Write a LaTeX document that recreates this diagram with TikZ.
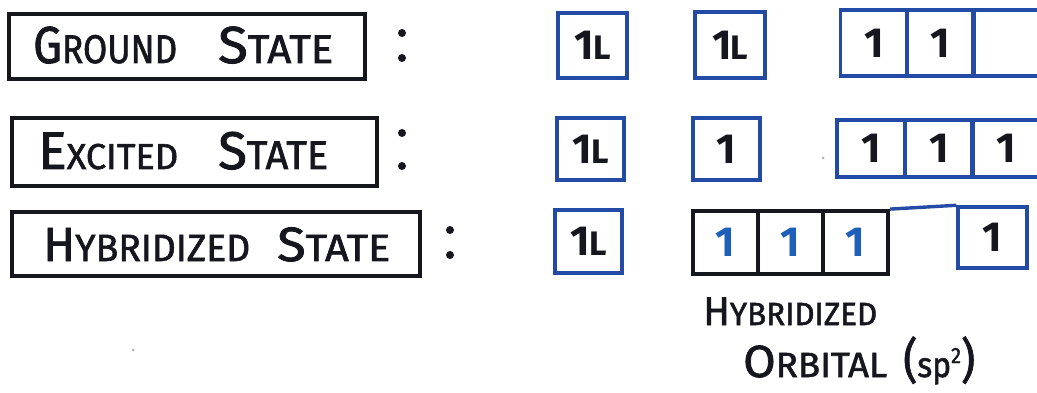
\documentclass[tikz,border=0pt]{standalone}
\usepackage{fontspec}
\setmainfont{Fira Sans}
\newfontfamily\hand{Fira Sans}[FakeBold=1.6]
\usepackage{graphicx}
\definecolor{ink}{RGB}{22,22,30}
\definecolor{oblue}{RGB}{35,75,165}
\definecolor{dblue}{RGB}{30,95,185}
\newcommand\fitw[2]{\resizebox{#1pt}{\height}{#2}}
\newcommand\fs[1]{\fontsize{#1}{#1}\selectfont}
\newcommand\updn{1\kern-1pt{\fs{34}L}}
\begin{document}
\begin{tikzpicture}[x=1pt,y=-1pt,
  lblbox/.style={draw=ink, line width=3.8pt, inner sep=0pt},
  lbltxt/.style={inner sep=0pt, text=ink, anchor=base west, font=\hand},
  colondot/.style={circle, fill=ink, inner sep=0pt, minimum size=8pt},
  orb/.style={draw=oblue, line width=3.4pt, inner sep=0pt, text=ink,
              font=\fs{42}\bfseries},
  orbk/.style={draw=ink, line width=3.8pt, inner sep=0pt, text=dblue,
              font=\fs{42}\bfseries},
  speck/.style={circle, fill=gray!60, inner sep=0pt, minimum size=3pt}]
\useasboundingbox (0,0) rectangle (1037,393);
\clip (0,0) rectangle (1037,393);
\fill[white] (0,0) rectangle (1037,393);

% ---- label boxes ----
\node[lblbox, minimum width=356pt, minimum height=65pt] (gbox) at (187,46.5) {};
\node[lblbox, minimum width=365pt, minimum height=68pt] (ebox) at (194.5,152) {};
\node[lblbox, minimum width=408pt, minimum height=64pt] (hbox) at (216,244) {};

\node[lbltxt] (gtxt) at (33,63) {\fitw{144}{\fs{52}G\fs{40}ROUND}\hspace{41pt}\fitw{115}{\fs{52}S\fs{40}TATE}};
\node[lbltxt] (etxt) at (38,169) {\fitw{140}{\fs{53}E\fs{36}XCITED}\hspace{40pt}\fitw{110}{\fs{53}S\fs{40}TATE}};
\node[lbltxt] (htxt) at (43,261) {\fitw{207}{\fs{48}H\fs{38}YBRIDIZED}\hspace{27pt}\fitw{113}{\fs{48}S\fs{38}TATE}};

% ---- colons ----
\node[colondot] (gc1) at (402,33) {};
\node[colondot] (gc2) at (402,58) {};
\node[colondot] (ec1) at (402,133) {};
\node[colondot] (ec2) at (402,166) {};
\node[colondot] (hc1) at (450,230) {};
\node[colondot] (hc2) at (450,255) {};

% ---- ground state orbitals ----
\node[orb, minimum width=69pt, minimum height=65pt] (g1) at (592.5,45.5) {\updn};
\node[orb, minimum width=70pt, minimum height=66pt] (g2) at (730,45) {\updn};
\node[orb, minimum width=67pt, minimum height=66pt] (g3) at (874,43) {1};
\node[orb, minimum width=67pt, minimum height=66pt] (g4) at (940.5,43) {1};
\node[orb, minimum width=67pt, minimum height=66pt] (g5) at (1006,43) {};

% ---- excited state orbitals ----
\node[orb, minimum width=67pt, minimum height=62pt] (e1) at (590.5,149) {\updn};
\node[orb, minimum width=67pt, minimum height=62pt] (e2) at (726.5,149) {1};
\node[orb, minimum width=68pt, minimum height=57pt] (e3) at (871,148.5) {1};
\node[orb, minimum width=68pt, minimum height=57pt] (e4) at (939,148.5) {1};
\node[orb, minimum width=68pt, minimum height=57pt] (e5) at (1006,148.5) {1};

% ---- hybridized state orbitals ----
\node[orb, minimum width=67pt, minimum height=63pt] (h1) at (588.5,241.5) {\updn};
\node[orbk, minimum width=65pt, minimum height=63pt] (h2) at (725.5,242.5) {1};
\node[orbk, minimum width=65pt, minimum height=63pt] (h3) at (790.5,242.5) {1};
\node[orbk, minimum width=65pt, minimum height=63pt] (h4) at (855.5,242.5) {1};
\node[orb, minimum width=69pt, minimum height=61pt] (hp) at (992.5,237.5) {1};
\draw[oblue, line width=3.4pt] (h4.north east) -- (hp.north west);

% ---- caption ----
\node[lbltxt] (cap1) at (703,325) {\fitw{174}{\fs{40}H\fs{32}YBRIDIZED}};
\node[lbltxt] (cap2) at (743,377) {\fitw{144}{\fs{45}O\fs{35}RBITAL}\hspace{16pt}\fitw{72}{\fs{48}(\fs{35}sp\raisebox{14pt}{\fs{22}2}\fs{48})}};

% ---- specks ----
\node[speck] (s1) at (823,158) {};
\node[speck] (s2) at (133,350) {};
\end{tikzpicture}
\end{document}
